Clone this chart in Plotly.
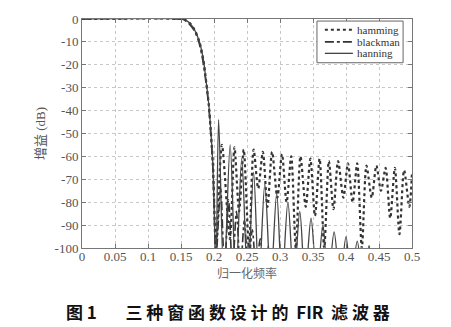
import plotly.graph_objects as go

# ---------------- data ----------------
hamming_f = [0, 0.15, 0.157, 0.164, 0.171, 0.178, 0.184, 0.188, 0.192, 0.195, 0.198, 0.2, 0.203,
             0.212, 0.224, 0.231, 0.238, 0.245, 0.253, 0.26, 0.267, 0.274, 0.281, 0.288, 0.296,
             0.303, 0.31, 0.317, 0.324, 0.331, 0.339, 0.346, 0.353, 0.36, 0.367, 0.374, 0.381,
             0.388, 0.396, 0.403, 0.41, 0.417, 0.424, 0.431, 0.439, 0.446, 0.453, 0.46, 0.467,
             0.474, 0.481, 0.488, 0.496, 0.5]
hamming_db = [0, 0, -0.5, -2, -5, -10, -18, -27, -37, -48, -62, -78, -100,
              -55, -96, -56, -84, -57, -100, -57, -74, -58, -82, -58, -78,
              -59, -80, -60, -100, -60, -82, -61, -86, -61, -100, -62, -83,
              -62, -78, -63, -80, -63, -100, -64, -78, -64, -75, -65, -87,
              -65, -94, -66, -82, -67]

blackman_f = [0, 0.148, 0.155, 0.162, 0.17, 0.177, 0.183, 0.188, 0.192, 0.195, 0.198, 0.2, 0.203,
              0.21, 0.216, 0.222, 0.228, 0.234, 0.24, 0.246, 0.252, 0.258, 0.264, 0.27, 0.276,
              0.282, 0.288, 0.5]
blackman_db = [0, 0, -0.5, -2, -5, -10, -18, -28, -38, -50, -63, -80, -105,
               -74, -110, -79, -110, -84, -110, -88, -110, -92, -110, -96, -110,
               -99, -112, -115]

hanning_f = [0, 0.15, 0.157, 0.164, 0.171, 0.178, 0.184, 0.188, 0.192, 0.195, 0.198, 0.2, 0.203,
             0.207, 0.215, 0.2245, 0.233, 0.242, 0.251, 0.26, 0.268, 0.277, 0.286, 0.295, 0.303,
             0.312, 0.321, 0.33, 0.338, 0.347, 0.356, 0.365, 0.373, 0.382, 0.391, 0.4, 0.408,
             0.417, 0.426, 0.435, 0.444, 0.5]
hanning_db = [0, 0, -0.5, -2, -5, -10, -18, -27, -37, -48, -62, -80, -110,
              -44, -115, -55, -115, -61, -115, -67, -115, -72, -115, -76, -115,
              -80, -115, -84, -115, -87, -115, -90, -115, -93, -115, -95, -115,
              -97, -115, -99, -115, -120]

series_names = ["hamming", "blackman", "hanning"]

x_ticks = [0, 0.05, 0.1, 0.15, 0.2, 0.25, 0.3, 0.35, 0.4, 0.45, 0.5]
x_ticktext = ["0", "0.05", "0.1", "0.15", "0.2", "0.25", "0.3", "0.35", "0.4", "0.45", "0.5"]
y_ticks = [0, -10, -20, -30, -40, -50, -60, -70, -80, -90, -100]
y_ticktext = ["0", "-10", "-20", "-30", "-40", "-50", "-60", "-70", "-80", "-90", "-100"]

# ---------------- styles ----------------
styles = [dict(color="#333333", width=2.2, dash="dot"),
          dict(color="#333333", width=1.6, dash="dashdot"),
          dict(color="#444444", width=1.3, dash="solid")]

fig = go.Figure()
for name, xs, ys, st, sm in zip(series_names,
                                [hamming_f, blackman_f, hanning_f],
                                [hamming_db, blackman_db, hanning_db],
                                styles, [0.8, 0.8, 0.9]):
    fig.add_trace(go.Scatter(x=xs, y=ys, mode="lines", name=name, showlegend=False,
                             line=dict(shape="spline", smoothing=sm, **st)))

tickfont = dict(family="Liberation Serif, serif", size=13, color="#555555")
axis_common = dict(showline=True, linecolor="#777777", linewidth=1, mirror="ticks",
                   ticks="inside", ticklen=4, tickcolor="#777777",
                   showgrid=True, gridcolor="#c8c8c8", griddash="dot", gridwidth=1,
                   zeroline=False, tickfont=tickfont)

fig.update_xaxes(range=[0, 0.5], tickvals=x_ticks, ticktext=x_ticktext, ticklabelstandoff=-4,
                 title=dict(text="归一化频率", standoff=0,
                            font=dict(family="Noto Sans CJK SC", size=12, color="#666666")),
                 **axis_common)
fig.update_yaxes(range=[-100, 0], tickvals=y_ticks, ticktext=y_ticktext,
                 title=dict(text="增益 (dB)", standoff=6,
                            font=dict(family="Liberation Serif, Noto Sans CJK SC", size=13, color="#555555")),
                 **axis_common)

# ---------------- compact legend box (paper coords of the plot area) ----------------
shapes = [dict(type="rect", xref="paper", yref="paper", x0=0.712, x1=0.973, y0=0.809, y1=0.991,
               line=dict(color="#666666", width=1), fillcolor="white", layer="above")]
annotations = []
for name, st, yy in zip(series_names, styles, [0.953, 0.900, 0.850]):
    shapes.append(dict(type="line", xref="paper", yref="paper", x0=0.736, x1=0.821, y0=yy, y1=yy,
                       line=dict(color=st["color"], width=min(st["width"], 1.8), dash=st["dash"]),
                       layer="above"))
    annotations.append(dict(text=name, xref="paper", yref="paper", x=0.826, y=yy,
                            xanchor="left", yanchor="middle", showarrow=False,
                            font=dict(family="Liberation Serif, serif", size=11, color="#333333")))

annotations.append(dict(text="<b>图 1　   三 种 窗 函 数 设 计 的  FIR  滤 波 器</b>",
                        xref="paper", yref="paper", x=0.443, y=-0.277,
                        xanchor="center", yanchor="middle", showarrow=False,
                        font=dict(family="Noto Sans CJK SC", size=17, color="#111111")))

fig.update_layout(
    width=451, height=327,
    margin=dict(l=82, r=39, t=13, b=79),
    paper_bgcolor="white", plot_bgcolor="white",
    showlegend=False,
    shapes=shapes,
    annotations=annotations,
)

fig.write_html("out.html")
